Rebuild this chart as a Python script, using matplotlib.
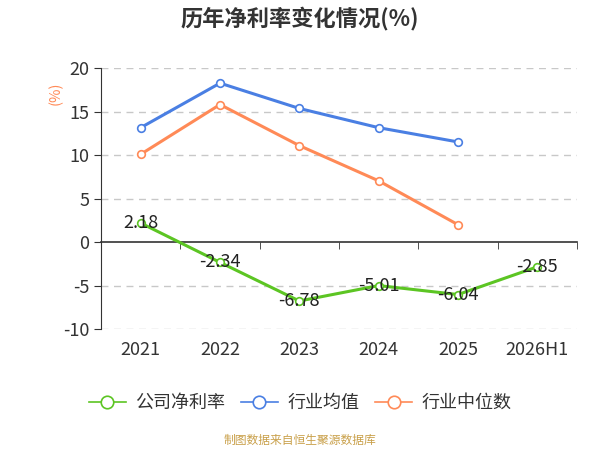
import matplotlib
matplotlib.use("Agg")
import matplotlib.pyplot as plt
from matplotlib.ticker import FixedLocator, NullFormatter
from matplotlib.lines import Line2D

plt.rcParams['font.family'] = ['Noto Sans CJK SC', 'DejaVu Sans']

categories = ["2021", "2022", "2023", "2024", "2025", "2026H1"]
company = [2.18, -2.34, -6.78, -5.01, -6.04, -2.85]
industry_avg = [13.14, 18.26, 15.35, 13.14, 11.5]
industry_median = [10.08, 15.8, 11.08, 7.03, 1.99]
yticks = [-10, -5, 0, 5, 10, 15, 20]
series_names = ["公司净利率", "行业均值", "行业中位数"]

green = "#5CC523"
blue = "#4A7FE3"
orange = "#FF8A57"

fig = plt.figure(figsize=(6, 4.5), dpi=100)
ax = fig.add_axes([101/600, 1-329/450, 476/600, 261/450])

x = list(range(len(categories)))
ax.plot(x, company, color=green, lw=2.2, marker='o', ms=5.5, mfc='white',
        mec=green, mew=1.2, zorder=5)
ax.plot(x[:len(industry_avg)], industry_avg, color=blue, lw=2.2, marker='o', ms=5.5,
        mfc='white', mec=blue, mew=1.2, zorder=4)
ax.plot(x[:len(industry_median)], industry_median, color=orange, lw=2.2, marker='o', ms=5.5,
        mfc='white', mec=orange, mew=1.2, zorder=4)

for xi, v in zip(x, company):
    ax.text(xi, v, f"{v:.2f}", ha='center', va='center', fontsize=13, color='#222222', zorder=6)

ax.set_xlim(-0.5, len(categories) - 0.5)
ax.set_ylim(-10, 20)
ax.set_yticks(yticks)
ax.set_yticklabels([str(t) for t in yticks], fontsize=13, color='#333333')
for t in yticks:
    if t != 0:
        ax.axhline(t, color='#c8c8c8', lw=1, ls=(0, (5, 4)), zorder=1)

for s in ['top', 'right']:
    ax.spines[s].set_visible(False)
ax.spines['left'].set_color('#333333')
ax.spines['bottom'].set_position(('data', 0))
ax.spines['bottom'].set_color('#333333')
ax.spines['bottom'].set_linewidth(1.2)

ax.set_xticks(x)
ax.set_xticklabels(categories, fontsize=13, color='#333333')
ax.tick_params(axis='x', which='major', length=0, pad=71.5)
ax.xaxis.set_minor_locator(FixedLocator([i - 0.5 for i in range(len(categories) + 1)]))
ax.xaxis.set_minor_formatter(NullFormatter())
ax.tick_params(axis='x', which='minor', length=5, color='#333333')
ax.tick_params(axis='y', length=5, color='#333333')

fig.text(56/600, 1-93/450, "(%)", rotation=90, color=orange, fontsize=10.5, ha='center', va='center')

fig.text(0.5, 1-18/450, "历年净利率变化情况(%)", ha='center', va='center',
         fontsize=16, fontweight='bold', color='#333333')

handles = [Line2D([], [], color=c, lw=1.2, marker='o', ms=9, mfc='white', mec=c, mew=1.2)
           for c in (green, blue, orange)]
leg = fig.legend(handles, series_names, loc='center', bbox_to_anchor=(0.5, 1-403/450),
                 ncol=3, frameon=False, fontsize=13, handlelength=2.05, columnspacing=0.9,
                 handletextpad=0.5)
for t in leg.get_texts():
    t.set_color('#333333')

fig.text(0.5, 1-440/450, "制图数据来自恒生聚源数据库", ha='center', va='center',
         fontsize=8.5, color='#C9A04A')

fig.savefig("out.png", dpi=100)
